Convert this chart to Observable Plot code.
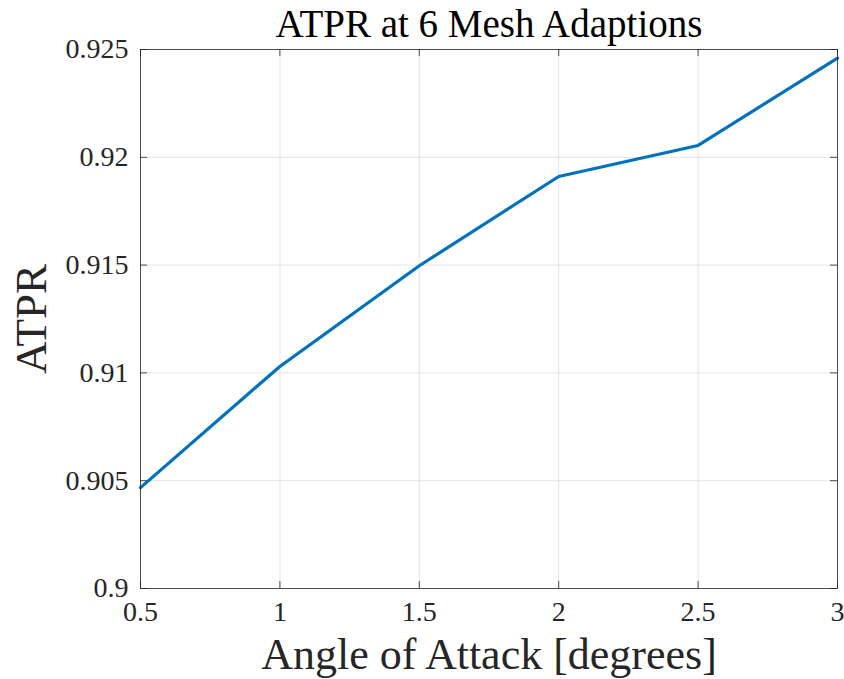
<!DOCTYPE html>
<html>
<head>
<meta charset="utf-8">
<script src="https://cdn.jsdelivr.net/npm/d3@7"></script>
<script src="https://cdn.jsdelivr.net/npm/@observablehq/plot@0.6"></script>
<style>
  html, body { margin: 0; padding: 0; background: #fff; }
  #chart svg { display: block; }
</style>
</head>
<body>
<div id="chart"></div>
<script>
const angles = [0.5, 1, 1.5, 2, 2.5, 3];
const atpr = [0.90468, 0.91030, 0.91497, 0.91911, 0.92055, 0.92460];
const xTicks = [0.5, 1, 1.5, 2, 2.5, 3];
const yTicks = [0.9, 0.905, 0.91, 0.915, 0.92, 0.925];
const xTickLabels = ["0.5", "1", "1.5", "2", "2.5", "3"];
const yTickLabels = ["0.9", "0.905", "0.91", "0.915", "0.92", "0.925"];
const titleText = "ATPR at 6 Mesh Adaptions";
const xLabel = "Angle of Attack [degrees]";
const yLabel = "ATPR";

const data = angles.map((a, i) => ({x: a, y: atpr[i]}));

const W = 844, H = 679;
const mT = 49, mB = 91, mL = 140, mR = 7;
const fw = W - mL - mR, fh = H - mT - mB;
const tk = 7;
const font = "'Liberation Serif', 'Times New Roman', serif";
const axisColor = "#262626";

const chart = Plot.plot({
  width: W,
  height: H,
  marginTop: mT,
  marginBottom: mB,
  marginLeft: mL,
  marginRight: mR,
  style: {fontFamily: font, background: "#fff", color: axisColor},
  x: {domain: [0.5, 3], axis: null},
  y: {domain: [0.9, 0.925], axis: null},
  marks: [
    Plot.gridX(xTicks, {stroke: "#262626", strokeOpacity: 0.12, strokeWidth: 1}),
    Plot.gridY(yTicks, {stroke: "#262626", strokeOpacity: 0.12, strokeWidth: 1}),
    Plot.line(data, {x: "x", y: "y", stroke: "#0072BD", strokeWidth: 3.2, strokeLinejoin: "round"}),
    Plot.frame({stroke: axisColor, strokeOpacity: 0.8, strokeWidth: 1}),
    // inward ticks
    Plot.tickX(xTicks, {x: d => d, insetTop: fh - tk, stroke: axisColor, strokeOpacity: 0.8}),
    Plot.tickX(xTicks, {x: d => d, insetBottom: fh - tk, stroke: axisColor, strokeOpacity: 0.8}),
    Plot.tickY(yTicks, {y: d => d, insetLeft: fw - tk, stroke: axisColor, strokeOpacity: 0.8}),
    Plot.tickY(yTicks, {y: d => d, insetRight: fw - tk, stroke: axisColor, strokeOpacity: 0.8}),
    // tick labels
    Plot.text(xTicks, {x: d => d, frameAnchor: "bottom", lineAnchor: "middle", dy: 24,
      text: (d, i) => xTickLabels[i], fontSize: 28, fontFamily: font, fill: axisColor}),
    Plot.text(yTicks, {y: d => d, frameAnchor: "left", textAnchor: "end", lineAnchor: "middle", dx: -12,
      text: (d, i) => yTickLabels[i], fontSize: 28, fontFamily: font, fill: axisColor}),
    Plot.text([titleText], {frameAnchor: "top", lineAnchor: "bottom", dy: -13, fontSize: 39, fontFamily: font, fill: "#000"}),
    Plot.text([xLabel], {frameAnchor: "bottom", lineAnchor: "bottom", dy: 80, fontSize: 44, fontFamily: font, fill: axisColor}),
    Plot.text([yLabel], {frameAnchor: "left", textAnchor: "middle", rotate: -90, lineAnchor: "middle", dx: -109, fontSize: 45, fontFamily: font, fill: axisColor})
  ]
});
document.getElementById("chart").appendChild(chart);
</script>
</body>
</html>
